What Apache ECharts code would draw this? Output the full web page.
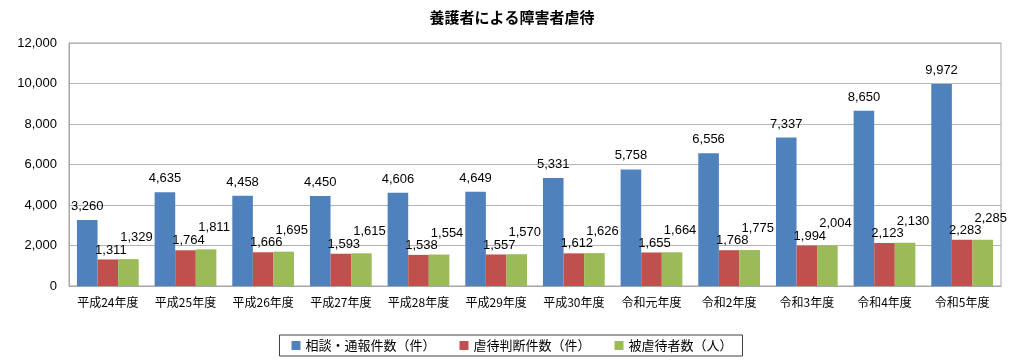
<!DOCTYPE html>
<html>
<head>
<meta charset="utf-8">
<script src="https://cdn.jsdelivr.net/npm/echarts@6/dist/echarts.min.js"></script>
<style>html,body{margin:0;padding:0;background:#fff}#c{width:1024px;height:363px}</style>
</head>
<body>
<div id="c"></div>
<script>
const categories = ['平成24年度','平成25年度','平成26年度','平成27年度','平成28年度','平成29年度','平成30年度','令和元年度','令和2年度','令和3年度','令和4年度','令和5年度'];
const consultations = [3260,4635,4458,4450,4606,4649,5331,5758,6556,7337,8650,9972];
const judgedCases = [1311,1764,1666,1593,1538,1557,1612,1655,1768,1994,2123,2283];
const victims = [1329,1811,1695,1615,1554,1570,1626,1664,1775,2004,2130,2285];
const seriesNames = ['相談・通報件数（件）','虐待判断件数（件）','被虐待者数（人）'];
const yTicks = {min:0, max:12000, interval:2000};

const font = '"Liberation Sans", "Noto Sans CJK JP", sans-serif';
const cjk = '"Noto Sans CJK JP", "Liberation Sans", sans-serif';
const fmt = v => v.toLocaleString('en-US');
const chart = echarts.init(document.getElementById('c'));
const labelBase = {show:true, color:'#000', fontFamily:font, fontSize:13, formatter:p=>fmt(p.value)};
chart.setOption({
  animation:false,
  title:{text:'養護者による障害者虐待', left:'center', top:5, textStyle:{fontFamily:cjk, fontSize:15, fontWeight:'bold', color:'#000'}},
  grid:{left:69, right:23, top:43, bottom:77, show:true, borderColor:'#a6a6a6', borderWidth:1},
  legend:{bottom:7, left:'center', itemWidth:9, itemHeight:9, itemGap:24, icon:'rect',
    borderColor:'#404040', borderWidth:1, padding:[4,10,4,12],
    textStyle:{fontFamily:cjk, fontSize:13, color:'#000'}, data:seriesNames},
  xAxis:{type:'category', data:categories,
    axisLine:{lineStyle:{color:'#a6a6a6'}}, axisTick:{show:false},
    axisLabel:{fontFamily:cjk, fontSize:12, color:'#000', margin:10, interval:0}},
  yAxis:{type:'value', min:yTicks.min, max:yTicks.max, interval:yTicks.interval,
    axisLine:{show:true, lineStyle:{color:'#a6a6a6'}}, axisTick:{show:false},
    splitLine:{lineStyle:{color:'#b3b3b3'}},
    axisLabel:{fontFamily:font, fontSize:13, color:'#000', margin:12, formatter:v=>fmt(v)}},
  series:[
    {name:seriesNames[0], type:'bar', data:consultations, barGap:'0%', barCategoryGap:'20.5%',
     itemStyle:{color:'#4f81bd'}, label:Object.assign({}, labelBase, {position:'top', distance:7})},
    {name:seriesNames[1], type:'bar', data:judgedCases,
     itemStyle:{color:'#c0504d'}, label:Object.assign({}, labelBase, {position:'top', distance:3, offset:[3,0]})},
    {name:seriesNames[2], type:'bar', data:victims,
     itemStyle:{color:'#9bbb59'}, label:Object.assign({}, labelBase, {position:'top', distance:5, offset:[8,-10]})}
  ]
});
</script>
</body>
</html>
